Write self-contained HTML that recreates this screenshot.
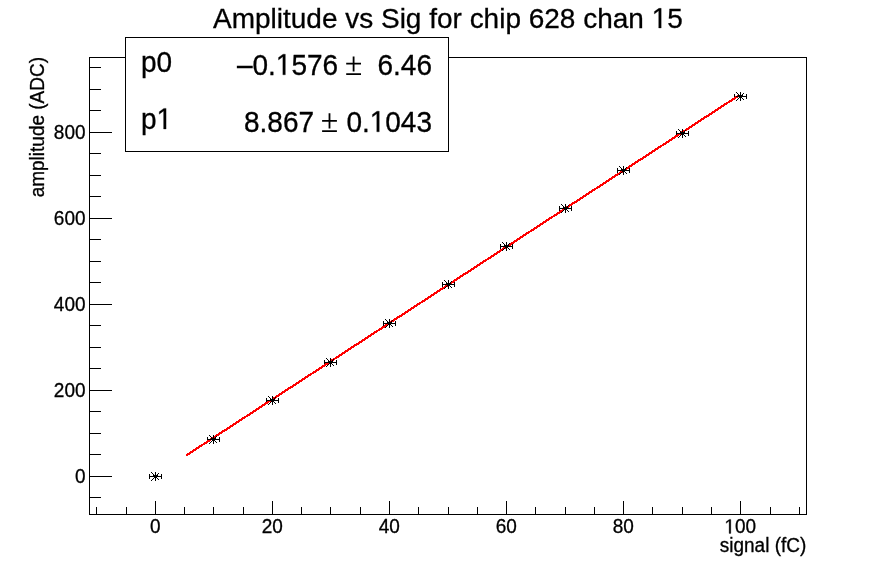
<!DOCTYPE html>
<html><head><meta charset="utf-8"><style>
html,body{margin:0;padding:0;background:#fff;width:896px;height:572px;overflow:hidden}
svg{display:block}
#w{will-change:transform;width:896px;height:572px}
text{font-family:"Liberation Sans",sans-serif;fill:#000;stroke:#000;stroke-width:0.3px}
.t19{font-size:19px}
.t28{font-size:28px}
.h{fill:none;stroke:none}
</style></head><body>
<div id="w"><svg width="896" height="572" viewBox="0 0 896 572">
<rect width="896" height="572" fill="#fff"/>
<rect x="89.5" y="57.5" width="717" height="457" fill="none" stroke="#000" stroke-width="1" shape-rendering="crispEdges"/>
<path d="M96.5 515V507M126.5 515V507M155.5 515V501M184.5 515V507M213.5 515V507M243.5 515V507M272.5 515V501M301.5 515V507M330.5 515V507M360.5 515V507M389.5 515V501M418.5 515V507M448.5 515V507M477.5 515V507M506.5 515V501M535.5 515V507M565.5 515V507M594.5 515V507M623.5 515V501M652.5 515V507M682.5 515V507M711.5 515V507M740.5 515V501M770.5 515V507M799.5 515V507M89 497.5H101M89 476.5H112M89 454.5H101M89 433.5H101M89 411.5H101M89 390.5H112M89 368.5H101M89 347.5H101M89 325.5H101M89 304.5H112M89 282.5H101M89 261.5H101M89 239.5H101M89 218.5H112M89 196.5H101M89 175.5H101M89 153.5H101M89 132.5H112M89 110.5H101M89 89.5H101M89 67.5H101" fill="none" stroke="#000" stroke-width="1" shape-rendering="crispEdges"/>
<text transform="translate(155.2,533.4) scale(1,1.07)" class="t19" text-anchor="middle">0</text>
<text transform="translate(272.2,533.4) scale(1,1.07)" class="t19" text-anchor="middle">20</text>
<text transform="translate(389.2,533.4) scale(1,1.07)" class="t19" text-anchor="middle">40</text>
<text transform="translate(506.2,533.4) scale(1,1.07)" class="t19" text-anchor="middle">60</text>
<text transform="translate(623.2,533.4) scale(1,1.07)" class="t19" text-anchor="middle">80</text>
<text transform="translate(740.2,533.4) scale(1,1.07)" class="t19" text-anchor="middle"><tspan class="h">1</tspan>00</text>
<text transform="translate(85.5,483.4) scale(1,1.07)" class="t19" text-anchor="end">0</text>
<text transform="translate(85.5,397.4) scale(1,1.07)" class="t19" text-anchor="end">200</text>
<text transform="translate(85.5,311.4) scale(1,1.07)" class="t19" text-anchor="end">400</text>
<text transform="translate(85.5,225.4) scale(1,1.07)" class="t19" text-anchor="end">600</text>
<text transform="translate(85.5,139.4) scale(1,1.07)" class="t19" text-anchor="end">800</text>
<text transform="translate(806.3,552.2) scale(1,1.07)" class="t19" text-anchor="end">signal (fC)</text>
<text transform="translate(44.2,57) rotate(-90) scale(1,1.07)" class="t19" text-anchor="end">amplitude (ADC)</text>
<text transform="translate(213,28) scale(1,1.02)" class="t28">Amplitude vs Sig for chip 628 chan <tspan class="h">1</tspan>5</text>
<path d="M149 474h1v1h-1zM149 475h1v1h-1zM149 476h1v1h-1zM149 477h1v1h-1zM149 478h1v1h-1zM150 476h1v1h-1zM151 476h1v1h-1zM152 476h1v1h-1zM153 476h1v1h-1zM154 476h1v1h-1zM155 476h1v1h-1zM156 476h1v1h-1zM157 476h1v1h-1zM158 476h1v1h-1zM159 476h1v1h-1zM160 476h1v1h-1zM161 474h1v1h-1zM161 475h1v1h-1zM161 476h1v1h-1zM161 477h1v1h-1zM161 478h1v1h-1zM207 437h1v1h-1zM207 438h1v1h-1zM207 439h1v1h-1zM207 440h1v1h-1zM207 441h1v1h-1zM208 439h1v1h-1zM209 439h1v1h-1zM210 439h1v1h-1zM211 439h1v1h-1zM212 439h1v1h-1zM213 439h1v1h-1zM214 439h1v1h-1zM215 439h1v1h-1zM216 439h1v1h-1zM217 439h1v1h-1zM218 439h1v1h-1zM219 437h1v1h-1zM219 438h1v1h-1zM219 439h1v1h-1zM219 440h1v1h-1zM219 441h1v1h-1zM266 398h1v1h-1zM266 399h1v1h-1zM266 400h1v1h-1zM266 401h1v1h-1zM266 402h1v1h-1zM267 400h1v1h-1zM268 400h1v1h-1zM269 400h1v1h-1zM270 400h1v1h-1zM271 400h1v1h-1zM272 400h1v1h-1zM273 400h1v1h-1zM274 400h1v1h-1zM275 400h1v1h-1zM276 400h1v1h-1zM277 400h1v1h-1zM278 398h1v1h-1zM278 399h1v1h-1zM278 400h1v1h-1zM278 401h1v1h-1zM278 402h1v1h-1zM324 360h1v1h-1zM324 361h1v1h-1zM324 362h1v1h-1zM324 363h1v1h-1zM324 364h1v1h-1zM325 362h1v1h-1zM326 362h1v1h-1zM327 362h1v1h-1zM328 362h1v1h-1zM329 362h1v1h-1zM330 362h1v1h-1zM331 362h1v1h-1zM332 362h1v1h-1zM333 362h1v1h-1zM334 362h1v1h-1zM335 362h1v1h-1zM336 360h1v1h-1zM336 361h1v1h-1zM336 362h1v1h-1zM336 363h1v1h-1zM336 364h1v1h-1zM383 321h1v1h-1zM383 322h1v1h-1zM383 323h1v1h-1zM383 324h1v1h-1zM383 325h1v1h-1zM384 323h1v1h-1zM385 323h1v1h-1zM386 323h1v1h-1zM387 323h1v1h-1zM388 323h1v1h-1zM389 323h1v1h-1zM390 323h1v1h-1zM391 323h1v1h-1zM392 323h1v1h-1zM393 323h1v1h-1zM394 323h1v1h-1zM395 321h1v1h-1zM395 322h1v1h-1zM395 323h1v1h-1zM395 324h1v1h-1zM395 325h1v1h-1zM442 282h1v1h-1zM442 283h1v1h-1zM442 284h1v1h-1zM442 285h1v1h-1zM442 286h1v1h-1zM443 284h1v1h-1zM444 284h1v1h-1zM445 284h1v1h-1zM446 284h1v1h-1zM447 284h1v1h-1zM448 284h1v1h-1zM449 284h1v1h-1zM450 284h1v1h-1zM451 284h1v1h-1zM452 284h1v1h-1zM453 284h1v1h-1zM454 282h1v1h-1zM454 283h1v1h-1zM454 284h1v1h-1zM454 285h1v1h-1zM454 286h1v1h-1zM500 244h1v1h-1zM500 245h1v1h-1zM500 246h1v1h-1zM500 247h1v1h-1zM500 248h1v1h-1zM501 246h1v1h-1zM502 246h1v1h-1zM503 246h1v1h-1zM504 246h1v1h-1zM505 246h1v1h-1zM506 246h1v1h-1zM507 246h1v1h-1zM508 246h1v1h-1zM509 246h1v1h-1zM510 246h1v1h-1zM511 246h1v1h-1zM512 244h1v1h-1zM512 245h1v1h-1zM512 246h1v1h-1zM512 247h1v1h-1zM512 248h1v1h-1zM559 206h1v1h-1zM559 207h1v1h-1zM559 208h1v1h-1zM559 209h1v1h-1zM559 210h1v1h-1zM560 208h1v1h-1zM561 208h1v1h-1zM562 208h1v1h-1zM563 208h1v1h-1zM564 208h1v1h-1zM565 208h1v1h-1zM566 208h1v1h-1zM567 208h1v1h-1zM568 208h1v1h-1zM569 208h1v1h-1zM570 208h1v1h-1zM571 206h1v1h-1zM571 207h1v1h-1zM571 208h1v1h-1zM571 209h1v1h-1zM571 210h1v1h-1zM617 168h1v1h-1zM617 169h1v1h-1zM617 170h1v1h-1zM617 171h1v1h-1zM617 172h1v1h-1zM618 170h1v1h-1zM619 170h1v1h-1zM620 170h1v1h-1zM621 170h1v1h-1zM622 170h1v1h-1zM623 170h1v1h-1zM624 170h1v1h-1zM625 170h1v1h-1zM626 170h1v1h-1zM627 170h1v1h-1zM628 170h1v1h-1zM629 168h1v1h-1zM629 169h1v1h-1zM629 170h1v1h-1zM629 171h1v1h-1zM629 172h1v1h-1zM676 131h1v1h-1zM676 132h1v1h-1zM676 133h1v1h-1zM676 134h1v1h-1zM676 135h1v1h-1zM677 133h1v1h-1zM678 133h1v1h-1zM679 133h1v1h-1zM680 133h1v1h-1zM681 133h1v1h-1zM682 133h1v1h-1zM683 133h1v1h-1zM684 133h1v1h-1zM685 133h1v1h-1zM686 133h1v1h-1zM687 133h1v1h-1zM688 131h1v1h-1zM688 132h1v1h-1zM688 133h1v1h-1zM688 134h1v1h-1zM688 135h1v1h-1zM734 94h1v1h-1zM734 95h1v1h-1zM734 96h1v1h-1zM734 97h1v1h-1zM734 98h1v1h-1zM735 96h1v1h-1zM736 96h1v1h-1zM737 96h1v1h-1zM738 96h1v1h-1zM739 96h1v1h-1zM740 96h1v1h-1zM741 96h1v1h-1zM742 96h1v1h-1zM743 96h1v1h-1zM744 96h1v1h-1zM745 96h1v1h-1zM746 94h1v1h-1zM746 95h1v1h-1zM746 96h1v1h-1zM746 97h1v1h-1zM746 98h1v1h-1z" fill="#000" shape-rendering="crispEdges"/>
<path d="M186.6 455.2L738 96" fill="none" stroke="#ff0000" stroke-width="2.2" stroke-linecap="round" shape-rendering="crispEdges"/>
<path d="M151 472h1v1h-1zM151 476h1v1h-1zM151 480h1v1h-1zM152 473h1v1h-1zM152 476h1v1h-1zM152 479h1v1h-1zM153 474h1v1h-1zM153 475h1v1h-1zM153 476h1v1h-1zM153 478h1v1h-1zM154 475h1v1h-1zM154 476h1v1h-1zM154 477h1v1h-1zM155 472h1v1h-1zM155 473h1v1h-1zM155 474h1v1h-1zM155 475h1v1h-1zM155 476h1v1h-1zM155 477h1v1h-1zM155 478h1v1h-1zM155 479h1v1h-1zM155 480h1v1h-1zM156 475h1v1h-1zM156 476h1v1h-1zM156 477h1v1h-1zM157 474h1v1h-1zM157 475h1v1h-1zM157 476h1v1h-1zM157 478h1v1h-1zM158 473h1v1h-1zM158 476h1v1h-1zM158 479h1v1h-1zM159 476h1v1h-1zM209 435h1v1h-1zM209 439h1v1h-1zM209 443h1v1h-1zM210 436h1v1h-1zM210 439h1v1h-1zM210 442h1v1h-1zM211 437h1v1h-1zM211 438h1v1h-1zM211 439h1v1h-1zM211 441h1v1h-1zM212 438h1v1h-1zM212 439h1v1h-1zM212 440h1v1h-1zM213 435h1v1h-1zM213 436h1v1h-1zM213 437h1v1h-1zM213 438h1v1h-1zM213 439h1v1h-1zM213 440h1v1h-1zM213 441h1v1h-1zM213 442h1v1h-1zM213 443h1v1h-1zM214 438h1v1h-1zM214 439h1v1h-1zM214 440h1v1h-1zM215 437h1v1h-1zM215 438h1v1h-1zM215 439h1v1h-1zM215 441h1v1h-1zM216 436h1v1h-1zM216 439h1v1h-1zM216 442h1v1h-1zM217 439h1v1h-1zM268 396h1v1h-1zM268 400h1v1h-1zM268 404h1v1h-1zM269 397h1v1h-1zM269 400h1v1h-1zM269 403h1v1h-1zM270 398h1v1h-1zM270 399h1v1h-1zM270 400h1v1h-1zM270 402h1v1h-1zM271 399h1v1h-1zM271 400h1v1h-1zM271 401h1v1h-1zM272 396h1v1h-1zM272 397h1v1h-1zM272 398h1v1h-1zM272 399h1v1h-1zM272 400h1v1h-1zM272 401h1v1h-1zM272 402h1v1h-1zM272 403h1v1h-1zM272 404h1v1h-1zM273 399h1v1h-1zM273 400h1v1h-1zM273 401h1v1h-1zM274 398h1v1h-1zM274 399h1v1h-1zM274 400h1v1h-1zM274 402h1v1h-1zM275 397h1v1h-1zM275 400h1v1h-1zM275 403h1v1h-1zM276 400h1v1h-1zM326 358h1v1h-1zM326 362h1v1h-1zM326 366h1v1h-1zM327 359h1v1h-1zM327 362h1v1h-1zM327 365h1v1h-1zM328 360h1v1h-1zM328 361h1v1h-1zM328 362h1v1h-1zM328 364h1v1h-1zM329 361h1v1h-1zM329 362h1v1h-1zM329 363h1v1h-1zM330 358h1v1h-1zM330 359h1v1h-1zM330 360h1v1h-1zM330 361h1v1h-1zM330 362h1v1h-1zM330 363h1v1h-1zM330 364h1v1h-1zM330 365h1v1h-1zM330 366h1v1h-1zM331 361h1v1h-1zM331 362h1v1h-1zM331 363h1v1h-1zM332 360h1v1h-1zM332 361h1v1h-1zM332 362h1v1h-1zM332 364h1v1h-1zM333 359h1v1h-1zM333 362h1v1h-1zM333 365h1v1h-1zM334 362h1v1h-1zM385 319h1v1h-1zM385 323h1v1h-1zM385 327h1v1h-1zM386 320h1v1h-1zM386 323h1v1h-1zM386 326h1v1h-1zM387 321h1v1h-1zM387 322h1v1h-1zM387 323h1v1h-1zM387 325h1v1h-1zM388 322h1v1h-1zM388 323h1v1h-1zM388 324h1v1h-1zM389 319h1v1h-1zM389 320h1v1h-1zM389 321h1v1h-1zM389 322h1v1h-1zM389 323h1v1h-1zM389 324h1v1h-1zM389 325h1v1h-1zM389 326h1v1h-1zM389 327h1v1h-1zM390 322h1v1h-1zM390 323h1v1h-1zM390 324h1v1h-1zM391 321h1v1h-1zM391 322h1v1h-1zM391 323h1v1h-1zM391 325h1v1h-1zM392 320h1v1h-1zM392 323h1v1h-1zM392 326h1v1h-1zM393 323h1v1h-1zM444 280h1v1h-1zM444 284h1v1h-1zM444 288h1v1h-1zM445 281h1v1h-1zM445 284h1v1h-1zM445 287h1v1h-1zM446 282h1v1h-1zM446 283h1v1h-1zM446 284h1v1h-1zM446 286h1v1h-1zM447 283h1v1h-1zM447 284h1v1h-1zM447 285h1v1h-1zM448 280h1v1h-1zM448 281h1v1h-1zM448 282h1v1h-1zM448 283h1v1h-1zM448 284h1v1h-1zM448 285h1v1h-1zM448 286h1v1h-1zM448 287h1v1h-1zM448 288h1v1h-1zM449 283h1v1h-1zM449 284h1v1h-1zM449 285h1v1h-1zM450 282h1v1h-1zM450 283h1v1h-1zM450 284h1v1h-1zM450 286h1v1h-1zM451 281h1v1h-1zM451 284h1v1h-1zM451 287h1v1h-1zM452 284h1v1h-1zM502 242h1v1h-1zM502 246h1v1h-1zM502 250h1v1h-1zM503 243h1v1h-1zM503 246h1v1h-1zM503 249h1v1h-1zM504 244h1v1h-1zM504 245h1v1h-1zM504 246h1v1h-1zM504 248h1v1h-1zM505 245h1v1h-1zM505 246h1v1h-1zM505 247h1v1h-1zM506 242h1v1h-1zM506 243h1v1h-1zM506 244h1v1h-1zM506 245h1v1h-1zM506 246h1v1h-1zM506 247h1v1h-1zM506 248h1v1h-1zM506 249h1v1h-1zM506 250h1v1h-1zM507 245h1v1h-1zM507 246h1v1h-1zM507 247h1v1h-1zM508 244h1v1h-1zM508 245h1v1h-1zM508 246h1v1h-1zM508 248h1v1h-1zM509 243h1v1h-1zM509 246h1v1h-1zM509 249h1v1h-1zM510 246h1v1h-1zM561 204h1v1h-1zM561 208h1v1h-1zM561 212h1v1h-1zM562 205h1v1h-1zM562 208h1v1h-1zM562 211h1v1h-1zM563 206h1v1h-1zM563 207h1v1h-1zM563 208h1v1h-1zM563 210h1v1h-1zM564 207h1v1h-1zM564 208h1v1h-1zM564 209h1v1h-1zM565 204h1v1h-1zM565 205h1v1h-1zM565 206h1v1h-1zM565 207h1v1h-1zM565 208h1v1h-1zM565 209h1v1h-1zM565 210h1v1h-1zM565 211h1v1h-1zM565 212h1v1h-1zM566 207h1v1h-1zM566 208h1v1h-1zM566 209h1v1h-1zM567 206h1v1h-1zM567 207h1v1h-1zM567 208h1v1h-1zM567 210h1v1h-1zM568 205h1v1h-1zM568 208h1v1h-1zM568 211h1v1h-1zM569 208h1v1h-1zM619 166h1v1h-1zM619 170h1v1h-1zM619 174h1v1h-1zM620 167h1v1h-1zM620 170h1v1h-1zM620 173h1v1h-1zM621 168h1v1h-1zM621 169h1v1h-1zM621 170h1v1h-1zM621 172h1v1h-1zM622 169h1v1h-1zM622 170h1v1h-1zM622 171h1v1h-1zM623 166h1v1h-1zM623 167h1v1h-1zM623 168h1v1h-1zM623 169h1v1h-1zM623 170h1v1h-1zM623 171h1v1h-1zM623 172h1v1h-1zM623 173h1v1h-1zM623 174h1v1h-1zM624 169h1v1h-1zM624 170h1v1h-1zM624 171h1v1h-1zM625 168h1v1h-1zM625 169h1v1h-1zM625 170h1v1h-1zM625 172h1v1h-1zM626 167h1v1h-1zM626 170h1v1h-1zM626 173h1v1h-1zM627 170h1v1h-1zM678 129h1v1h-1zM678 133h1v1h-1zM678 137h1v1h-1zM679 130h1v1h-1zM679 133h1v1h-1zM679 136h1v1h-1zM680 131h1v1h-1zM680 132h1v1h-1zM680 133h1v1h-1zM680 135h1v1h-1zM681 132h1v1h-1zM681 133h1v1h-1zM681 134h1v1h-1zM682 129h1v1h-1zM682 130h1v1h-1zM682 131h1v1h-1zM682 132h1v1h-1zM682 133h1v1h-1zM682 134h1v1h-1zM682 135h1v1h-1zM682 136h1v1h-1zM682 137h1v1h-1zM683 132h1v1h-1zM683 133h1v1h-1zM683 134h1v1h-1zM684 131h1v1h-1zM684 132h1v1h-1zM684 133h1v1h-1zM684 135h1v1h-1zM685 130h1v1h-1zM685 133h1v1h-1zM685 136h1v1h-1zM686 133h1v1h-1zM736 92h1v1h-1zM736 96h1v1h-1zM736 100h1v1h-1zM737 93h1v1h-1zM737 96h1v1h-1zM737 99h1v1h-1zM738 94h1v1h-1zM738 95h1v1h-1zM738 96h1v1h-1zM738 98h1v1h-1zM739 95h1v1h-1zM739 96h1v1h-1zM739 97h1v1h-1zM740 92h1v1h-1zM740 93h1v1h-1zM740 94h1v1h-1zM740 95h1v1h-1zM740 96h1v1h-1zM740 97h1v1h-1zM740 98h1v1h-1zM740 99h1v1h-1zM740 100h1v1h-1zM741 95h1v1h-1zM741 96h1v1h-1zM741 97h1v1h-1zM742 94h1v1h-1zM742 95h1v1h-1zM742 96h1v1h-1zM742 98h1v1h-1zM743 93h1v1h-1zM743 96h1v1h-1zM743 99h1v1h-1zM744 96h1v1h-1z" fill="#000" shape-rendering="crispEdges"/>
<rect x="125.5" y="37.5" width="323" height="114" fill="#fff" stroke="#000" stroke-width="1" shape-rendering="crispEdges"/>
<text transform="translate(141,72.3) scale(1,1.07)" class="t28">p0</text>
<text transform="translate(141,129) scale(1,1.07)" class="t28">p<tspan class="h">1</tspan></text>
<text transform="translate(236.9,74.8) scale(1,1.07)" class="t28">–0.<tspan class="h">1</tspan>576</text>
<text transform="translate(432,74.8) scale(1,1.07)" class="t28" text-anchor="end">6.46</text>
<text transform="translate(244,131.8) scale(1,1.07)" class="t28">8.867</text>
<text transform="translate(432,131.8) scale(1,1.07)" class="t28" text-anchor="end">0.<tspan class="h">1</tspan>043</text>
<path d="M346.2 63.7H361M353.6 56.4V71.5M346.2 74.1H361M322.1 120.8H336.9M329.5 113.3V128.6M322.1 131.2H336.9" fill="none" stroke="#000" stroke-width="1.8"/>
<path d="M729.14 533.40 729.14 521.12 726.19 523.37 726.19 521.69 729.27 519.41 730.81 519.41 730.81 533.40ZM658.71 28.00 658.71 10.75 654.36 13.92 654.36 11.54 658.92 8.35 661.19 8.35 661.19 28.00ZM163.61 129.00 163.61 110.90 159.26 114.22 159.26 111.74 163.82 108.39 166.09 108.39 166.09 129.00ZM282.85 74.80 282.85 56.70 278.51 60.02 278.51 57.54 283.06 54.19 285.33 54.19 285.33 74.80ZM376.77 131.80 376.77 113.70 372.43 117.02 372.43 114.54 376.98 111.19 379.25 111.19 379.25 131.80Z" fill="#000" stroke="#000" stroke-width="0.3"/>
</svg></div>
</body></html>
